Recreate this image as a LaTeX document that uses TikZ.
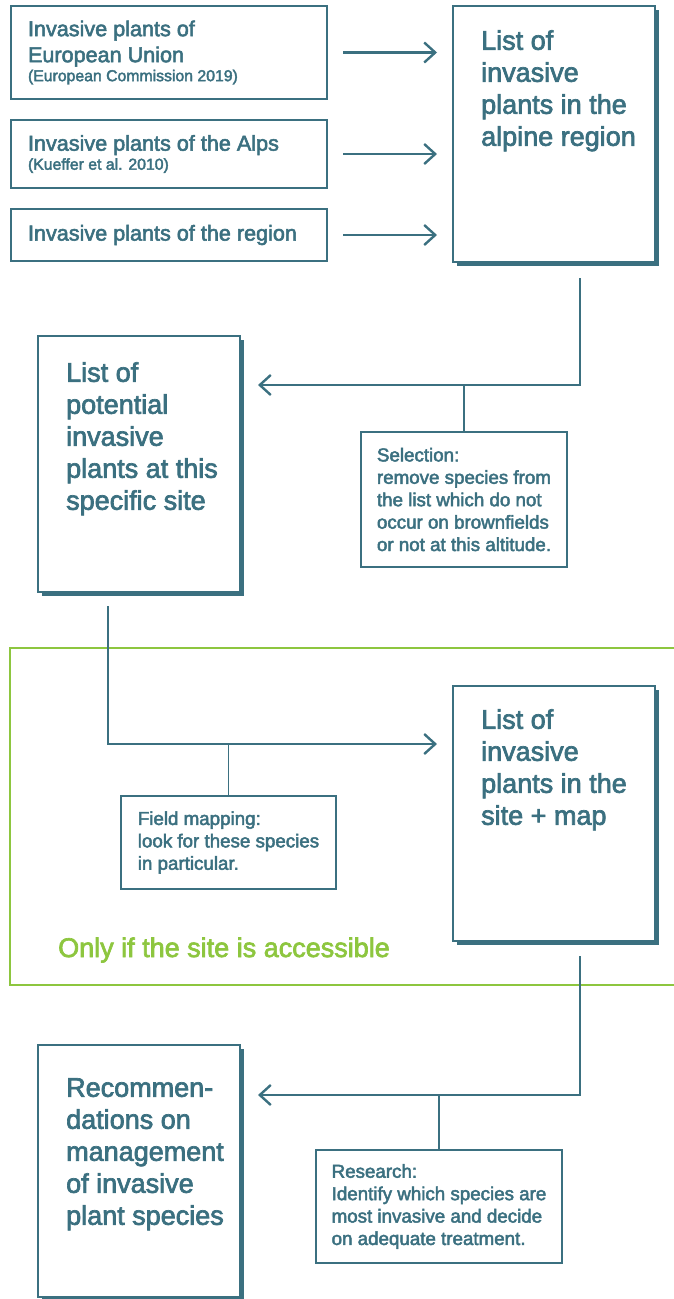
\documentclass[tikz,border=0pt]{standalone}
\usepackage{fontspec}
\newfontfamily\mf{Liberation Sans}[FakeBold=2.5]
\usetikzlibrary{arrows.meta,shadows,calc}
\definecolor{tealc}{RGB}{59,112,128}
\definecolor{grn}{RGB}{141,198,63}
\begin{document}
\begin{tikzpicture}[x=1pt,y=-1pt,
  every node/.style={text=tealc, font=\mf},
  srcbox/.style={draw=tealc, line width=1.3pt, fill=white, inner ysep=0pt, inner xsep=17pt,
    anchor=north west, outer sep=0pt},
  bigbox/.style={draw=tealc, line width=2.3pt, fill=white, outer sep=0pt, anchor=north west,
    inner sep=0pt, minimum width=202pt,
    drop shadow={shadow xshift=3.5pt, shadow yshift=-3.5pt, opacity=1, fill=tealc}},
  bigtext/.style={anchor=north west, inner sep=0pt, align=left, font=\mf\fontsize{27}{32}\selectfont},
  notebox/.style={draw=tealc, line width=1.3pt, fill=white, outer sep=0pt, anchor=north west,
    inner sep=0pt, align=left, font=\mf\fontsize{18.75}{22.4}\selectfont},
  flow/.style={draw=tealc, line width=2.4pt, -{Straight Barb[length=11pt,width=20pt,line width=2.4pt]}},
  tie/.style={draw=tealc, line width=1.3pt}
]
\useasboundingbox (0,0) rectangle (673,1299);

% green frame
\draw[grn, line width=2.5pt] (10,648) rectangle (700,985);
\node[anchor=base west, inner sep=0pt, text=grn, font=\mf\fontsize{27}{32}\selectfont] (acc) at (58,957) {Only if the site is accessible};

% source boxes
\node[srcbox, minimum height=93pt] (s1) at (11,6) {\parbox{282pt}{\fontsize{21.6}{26}\selectfont Invasive plants of\\European Union\par\fontsize{15.8}{19}\selectfont (European Commission 2019)}};
\node[srcbox, minimum height=68pt] (s2) at (11,120) {\parbox{282pt}{\fontsize{21.6}{26}\selectfont Invasive plants of the Alps\par\fontsize{15.8}{19}\selectfont (Kueffer et al. 2010)}};
\node[srcbox, minimum height=52pt] (s3) at (11,209) {\parbox{282pt}{\fontsize{21.6}{26}\selectfont Invasive plants of the region}};

% big boxes
\node[bigbox, minimum height=256pt] (A) at (453,6) {};
\node[bigtext] (tA) at ([xshift=28pt,yshift=-24pt]A.north west) {List of\\invasive\\plants in the\\alpine region};

\node[bigbox, minimum height=256pt] (B) at (38,336) {};
\node[bigtext] (tB) at ([xshift=28pt,yshift=-26pt]B.north west) {List of\\potential\\invasive\\plants at this\\specific site};

\node[bigbox, minimum height=255pt] (C) at (453,686) {};
\node[bigtext] (tC) at ([xshift=28pt,yshift=-23pt]C.north west) {List of\\invasive\\plants in the\\site + map};

\node[bigbox, minimum height=252pt] (D) at (38,1045) {};
\node[bigtext] (tD) at ([xshift=28pt,yshift=-33pt]D.north west) {Recommen-\\dations on\\management\\of invasive\\plant species};

% arrows into A
\draw[flow, shorten <=16pt, shorten >=16pt] (s1.east) -- (s1.east -| A.west);
\draw[flow, shorten <=16pt, shorten >=16pt] (s2.east) -- (s2.east -| A.west);
\draw[flow, shorten <=16pt, shorten >=16pt] (s3.east) -- (s3.east -| A.west);

% A -> B
\coordinate (j1) at ([yshift=-49pt]B.north east);
\draw[flow, shorten <=16pt, shorten >=18pt] ([xshift=127pt]A.south west) |- (j1);
\node[notebox, minimum width=206pt, minimum height=135pt] (sel) at (361,432) {Selection:\\remove species from\\the list which do not\\occur on brownfields\\or not at this altitude.};
\draw[tie] (sel.north) -- (sel.north |- j1);

% B -> C
\coordinate (j2) at ([yshift=-58pt]C.north west);
\draw[flow, shorten <=14pt, shorten >=16pt] ([xshift=70pt]B.south west) |- (j2);
\node[notebox, minimum width=215pt, minimum height=93pt] (fm) at (121,796) {Field mapping:\\look for these species\\in particular.};
\draw[tie] (fm.north) -- (fm.north |- j2);

% C -> D
\coordinate (j3) at ([yshift=-50pt]D.north east);
\draw[flow, shorten <=15pt, shorten >=18pt] ([xshift=127pt]C.south west) |- (j3);
\node[notebox, minimum width=246pt, minimum height=113pt] (res) at (316,1150) {Research:\\Identify which species are\\most invasive and decide\\on adequate treatment.};
\draw[tie] (res.north) -- (res.north |- j3);
\end{tikzpicture}
\end{document}
